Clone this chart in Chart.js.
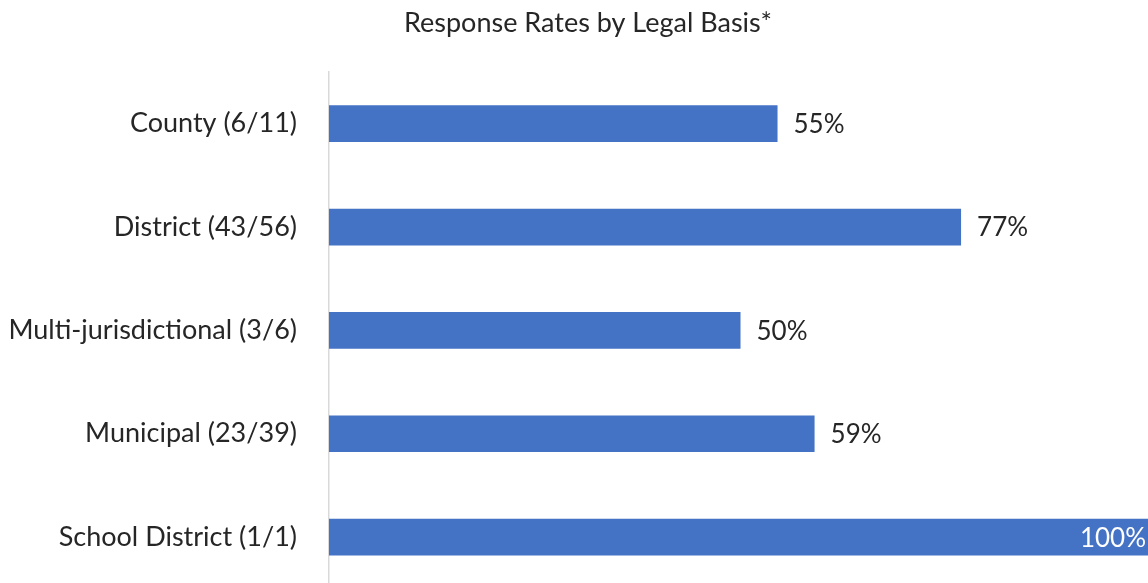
<!DOCTYPE html>
<html>
<head>
<meta charset="utf-8">
<script src="https://cdn.jsdelivr.net/npm/chart.js@4"></script>
<style>
  html, body { margin: 0; padding: 0; background: #fff; overflow: hidden; }
  #chart { position: absolute; left: 0; top: 0; }
</style>
</head>
<body>
<canvas id="chart" width="1152" height="629" style="width:1152px;height:629px"></canvas>
<script>
// categories and response rates (percent)
const categories = [
    'County (6/11)',
    'District (43/56)',
    'Multi-jurisdictional (3/6)',
    'Municipal (23/39)',
    'School District (1/1)'
];
const rates = [54.5, 76.8, 50.0, 59.0, 100.0];
const rateLabels = ['55%', '77%', '50%', '59%', '100%'];
const titleText = 'Response Rates by Legal Basis*';

const FONT = 'Lato, "Open Sans", sans-serif';
const TEXT = '#262626';

// title sits a bit right of the canvas centre, so it is drawn by hand
// and the value next to each bar, inside the bar when it hits the end
const barLabels = {
    id: 'barLabels',
    afterDatasetsDraw (chart) {
        const ctx = chart.ctx;
        const meta = chart.getDatasetMeta(0);
        ctx.save();
        ctx.textBaseline = 'middle';

        ctx.font = '27px ' + FONT;
        ctx.fillStyle = TEXT;
        ctx.textAlign = 'center';
        ctx.fillText(titleText, 588, 23);

        ctx.font = '26px ' + FONT;
        meta.data.forEach((bar, i) => {
            if (rates[i] >= 100) {
                ctx.fillStyle = '#ffffff';
                ctx.textAlign = 'right';
                ctx.fillText(rateLabels[i], bar.x - 6, bar.y + 1);
            } else {
                ctx.fillStyle = TEXT;
                ctx.textAlign = 'left';
                ctx.fillText(rateLabels[i], bar.x + 16, bar.y + 1);
            }
        });
        ctx.restore();
    }
};

new Chart(document.getElementById('chart'), {
    type: 'bar',
    data: {
        labels: categories,
        datasets: [{
            data: rates,
            backgroundColor: '#4472C4',
            categoryPercentage: 1,
            barPercentage: 0.355
        }]
    },
    options: {
        indexAxis: 'y',
        responsive: false,
        animation: false,
        layout: { padding: { left: 0, right: 0, top: 72, bottom: 3 } },
        plugins: {
            legend: { display: false },
            tooltip: { enabled: false },
            title: { display: false }
        },
        scales: {
            x: {
                display: false,
                min: 0,
                max: 100
            },
            y: {
                grid: { display: false },
                border: { display: true, color: '#d9d9d9', width: 1.5 },
                ticks: {
                    color: TEXT,
                    font: { family: FONT, size: 27 },
                    padding: 24
                },
                afterFit (scale) { scale.width = 329; }
            }
        }
    },
    plugins: [barLabels]
});
</script>
</body>
</html>
